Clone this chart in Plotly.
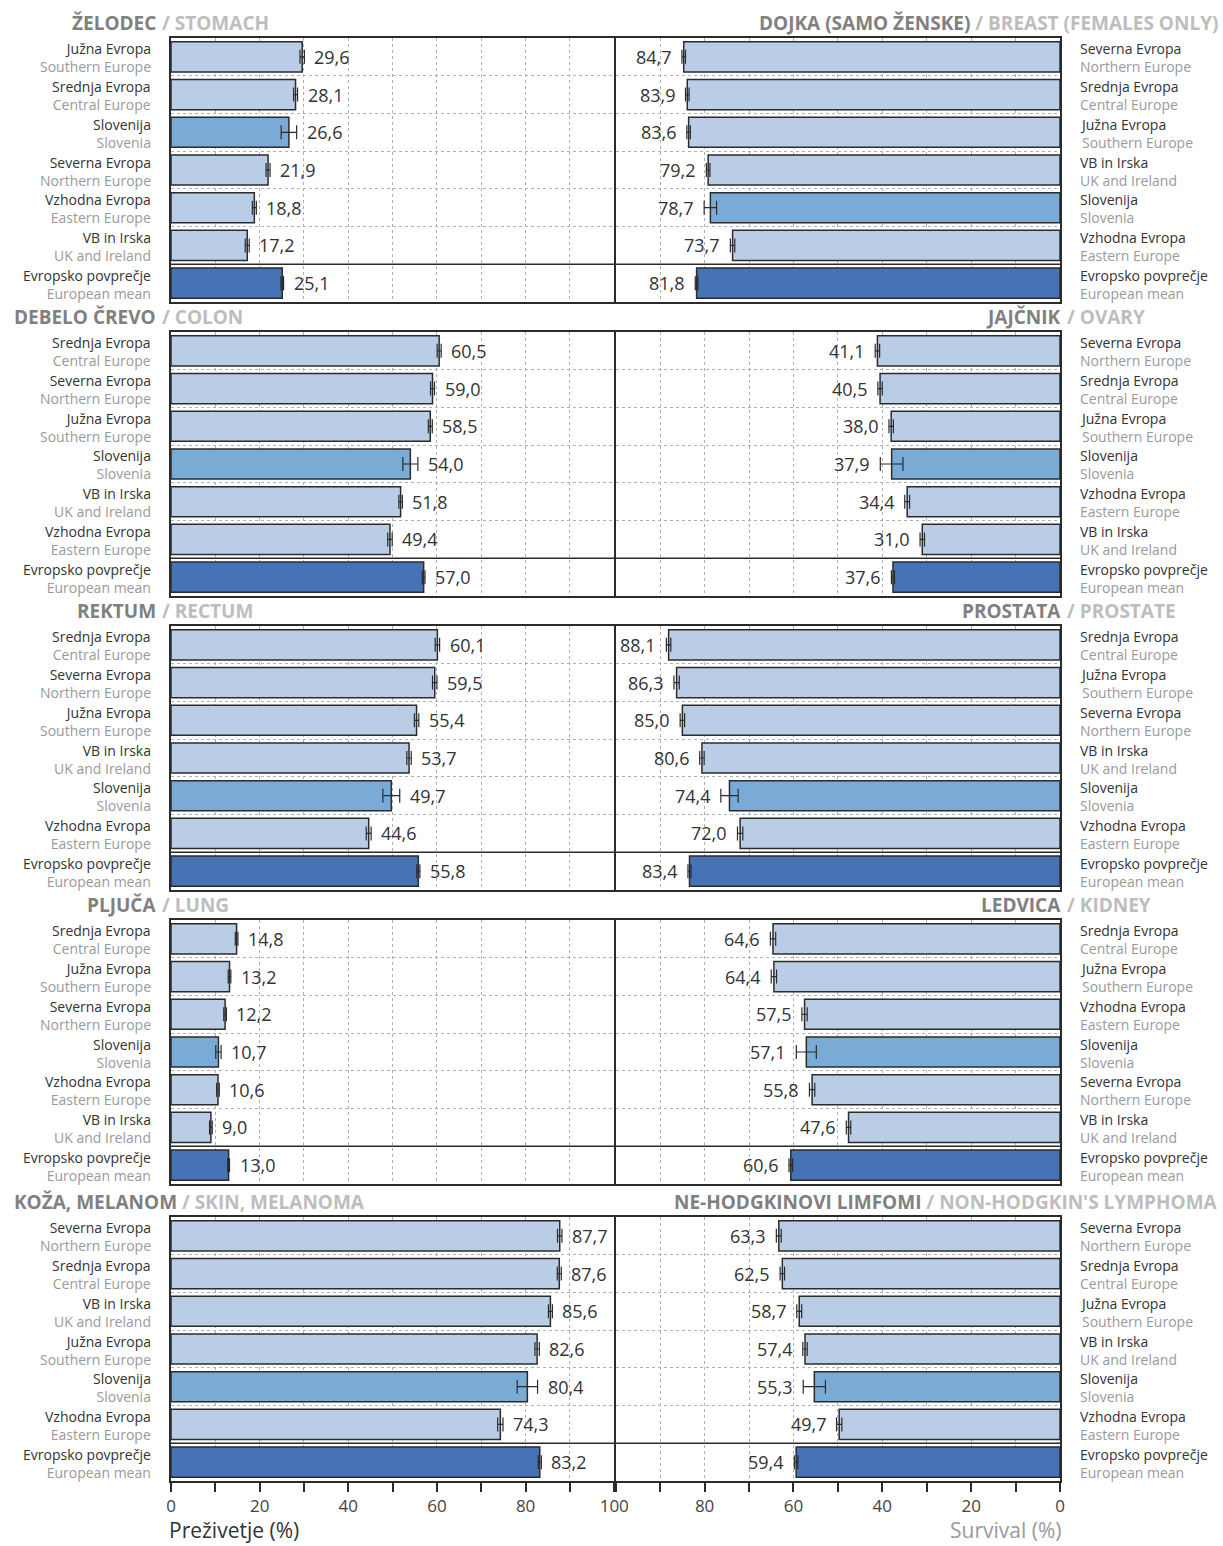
import plotly.graph_objects as go

W, H = 1223, 1546
FONT = "Open Sans"

# ---------------- data ----------------
NAMES_SL = {
    "S": "Južna Evropa", "C": "Srednja Evropa", "SI": "Slovenija", "N": "Severna Evropa",
    "E": "Vzhodna Evropa", "UK": "VB in Irska", "EU": "Evropsko povprečje",
}
NAMES_EN = {
    "S": "Southern Europe", "C": "Central Europe", "SI": "Slovenia", "N": "Northern Europe",
    "E": "Eastern Europe", "UK": "UK and Ireland", "EU": "European mean",
}

stomach_regions = ["S", "C", "SI", "N", "E", "UK", "EU"]
stomach_values = [29.6, 28.1, 26.6, 21.9, 18.8, 17.2, 25.1]
stomach_errors = [0.5, 0.45, 1.75, 0.45, 0.45, 0.45, 0.3]

breast_regions = ["N", "C", "S", "UK", "SI", "E", "EU"]
breast_values = [84.7, 83.9, 83.6, 79.2, 78.7, 73.7, 81.8]
breast_errors = [0.4, 0.4, 0.4, 0.4, 1.4, 0.5, 0.3]

colon_regions = ["C", "N", "S", "SI", "UK", "E", "EU"]
colon_values = [60.5, 59.0, 58.5, 54.0, 51.8, 49.4, 57.0]
colon_errors = [0.45, 0.45, 0.45, 1.7, 0.4, 0.5, 0.3]

ovary_regions = ["N", "C", "S", "SI", "E", "UK", "EU"]
ovary_values = [41.1, 40.5, 38.0, 37.9, 34.4, 31.0, 37.6]
ovary_errors = [0.5, 0.5, 0.5, 2.55, 0.55, 0.5, 0.35]

rectum_regions = ["C", "N", "S", "UK", "SI", "E", "EU"]
rectum_values = [60.1, 59.5, 55.4, 53.7, 49.7, 44.6, 55.8]
rectum_errors = [0.5, 0.5, 0.5, 0.5, 1.9, 0.55, 0.35]

prostate_regions = ["C", "S", "N", "UK", "SI", "E", "EU"]
prostate_values = [88.1, 86.3, 85.0, 80.6, 74.4, 72.0, 83.4]
prostate_errors = [0.5, 0.6, 0.5, 0.5, 1.95, 0.6, 0.35]

lung_regions = ["C", "S", "N", "SI", "E", "UK", "EU"]
lung_values = [14.8, 13.2, 12.2, 10.7, 10.6, 9.0, 13.0]
lung_errors = [0.3, 0.3, 0.3, 0.6, 0.3, 0.3, 0.2]

kidney_regions = ["C", "S", "E", "SI", "N", "UK", "EU"]
kidney_values = [64.6, 64.4, 57.5, 57.1, 55.8, 47.6, 60.6]
kidney_errors = [0.6, 0.6, 0.6, 2.25, 0.6, 0.5, 0.4]

melanoma_regions = ["N", "C", "UK", "S", "SI", "E", "EU"]
melanoma_values = [87.7, 87.6, 85.6, 82.6, 80.4, 74.3, 83.2]
melanoma_errors = [0.5, 0.45, 0.45, 0.5, 2.3, 0.6, 0.35]

nhl_regions = ["N", "C", "S", "UK", "SI", "E", "EU"]
nhl_values = [63.3, 62.5, 58.7, 57.4, 55.3, 49.7, 59.4]
nhl_errors = [0.55, 0.5, 0.55, 0.5, 2.5, 0.6, 0.4]

titles_sl = ["ŽELODEC", "DOJKA (SAMO ŽENSKE)", "DEBELO ČREVO", "JAJČNIK", "REKTUM",
             "PROSTATA", "PLJUČA", "LEDVICA", "KOŽA, MELANOM", "NE-HODGKINOVI LIMFOMI"]
titles_en = ["STOMACH", "BREAST (FEMALES ONLY)", "COLON", "OVARY", "RECTUM",
             "PROSTATE", "LUNG", "KIDNEY", "SKIN, MELANOMA", "NON-HODGKIN'S LYMPHOMA"]

tick_values = list(range(0, 101, 10))
left_tick_labels = ["0", "", "20", "", "40", "", "60", "", "80", "", "100"]
right_tick_labels = ["0", "", "20", "", "40", "", "60", "", "80", "", ""]

panels = [
    (stomach_regions, stomach_values, stomach_errors),
    (breast_regions, breast_values, breast_errors),
    (colon_regions, colon_values, colon_errors),
    (ovary_regions, ovary_values, ovary_errors),
    (rectum_regions, rectum_values, rectum_errors),
    (prostate_regions, prostate_values, prostate_errors),
    (lung_regions, lung_values, lung_errors),
    (kidney_regions, kidney_values, kidney_errors),
    (melanoma_regions, melanoma_values, melanoma_errors),
    (nhl_regions, nhl_values, nhl_errors),
]

# ---------------- style ----------------
C_LIGHT = "#b9cde6"
C_SI = "#7aabd6"
C_EU = "#4673b6"
C_LINE = "#2b2b2b"
C_DARK_TXT = "#333333"
C_LIGHT_TXT = "#9a9a9a"
C_TITLE_SL = "#808080"
C_TITLE_EN = "#bdbdbd"

row_tops = [38, 332, 626, 920, 1217]
panel_h = 264
x_left = (171, 614.25)
x_right = (615.75, 1060)

fig = go.Figure()
annotations = []
shapes = []
layout_axes = {}

for k, (regs, vals, errs) in enumerate(panels):
    r, c = divmod(k, 2)
    ax = k + 1
    xa = "x" if ax == 1 else f"x{ax}"
    ya = "y" if ax == 1 else f"y{ax}"
    top = row_tops[r]
    bot = top + panel_h
    xd = x_left if c == 0 else x_right
    colors = [C_SI if g == "SI" else (C_EU if g == "EU" else C_LIGHT) for g in regs]
    ypos = list(range(len(regs)))
    fig.add_trace(go.Bar(
        orientation="h", x=vals, y=ypos, width=0.8,
        marker=dict(color=colors, line=dict(color=C_LINE, width=1.5)),
        error_x=dict(type="data", array=errs, visible=True, color=C_LINE, thickness=1.2, width=7),
        xaxis=xa, yaxis=ya, showlegend=False, hoverinfo="x+y",
    ))
    bottom_row = (r == 4)
    layout_axes[f"xaxis{'' if ax == 1 else ax}"] = dict(
        domain=[xd[0] / W, xd[1] / W],
        range=[0, 100] if c == 0 else [100, 0],
        anchor=ya, automargin=False,
        tickmode="array", tickvals=tick_values,
        ticktext=left_tick_labels if c == 0 else right_tick_labels,
        showticklabels=bottom_row,
        ticks="outside" if bottom_row else "", ticklen=9, tickwidth=1.5, tickcolor=C_LINE,
        tickfont=dict(family=FONT, size=17, color="#444444"),
        showgrid=True, gridcolor="#b0b0b0", griddash="dot", gridwidth=1,
        zeroline=False, showline=True, linecolor=C_LINE, linewidth=1.5, mirror=True,
        fixedrange=True,
    )
    layout_axes[f"yaxis{'' if ax == 1 else ax}"] = dict(
        domain=[1 - bot / H, 1 - top / H],
        range=[6.5, -0.5], anchor=xa, automargin=False,
        tickmode="array", tickvals=[0.5, 1.5, 2.5, 3.5, 4.5],
        showticklabels=False, ticks="",
        showgrid=True, gridcolor="#b0b0b0", griddash="dot", gridwidth=1,
        zeroline=False, showline=True, linecolor=C_LINE, linewidth=1.5, mirror=True,
        fixedrange=True,
    )
    # solid separator above European mean
    shapes.append(dict(type="line", xref=f"{xa} domain", yref=ya, x0=0, x1=1, y0=5.5, y1=5.5,
                       line=dict(color=C_LINE, width=1.5), layer="above"))
    # value labels
    for i, (v, e) in enumerate(zip(vals, errs)):
        annotations.append(dict(
            x=v + e, y=i, xref=xa, yref=ya, text=f"{v:.1f}".replace(".", ","),
            showarrow=False, xanchor="left" if c == 0 else "right",
            xshift=8 if c == 0 else -8, yshift=0,
            font=dict(family=FONT, size=18, color=C_DARK_TXT)))
    # region labels (two-line: Slovenian dark, English light)
    lx = 153 / W if c == 0 else 1078 / W
    anch = "right" if c == 0 else "left"
    for i, g in enumerate(regs):
        txt = f"{NAMES_SL[g]}<br><span style='color:{C_LIGHT_TXT}'>{NAMES_EN[g]}</span>"
        annotations.append(dict(x=lx, y=i, xref="paper", yref=ya, text=txt, showarrow=False,
                                xanchor=anch, yanchor="middle", align=anch, yshift=-1,
                                font=dict(family=FONT, size=14, color=C_DARK_TXT)))
    # titles
    ty = 1 - (top - 15) / H
    sl, en = titles_sl[k], titles_en[k]
    tfont = dict(family=FONT, size=19)
    long_title = k in (1, 8, 9)
    if long_title:
        txt = f"<b>{sl}</b><span style='color:{C_TITLE_EN}'><b> / {en}</b></span>"
        if c == 0:
            annotations.append(dict(x=12 / W, y=ty, xref="paper", yref="paper", text=txt, showarrow=False,
                                    xanchor="left", yanchor="middle", font=dict(color=C_TITLE_SL, **tfont)))
        else:
            annotations.append(dict(x=1220 / W, y=ty, xref="paper", yref="paper", text=txt, showarrow=False,
                                    xanchor="right", yanchor="middle", font=dict(color=C_TITLE_SL, **tfont)))
    else:
        sx = 158 if c == 0 else 1063
        annotations.append(dict(x=sx / W, y=ty, xref="paper", yref="paper", text=f"<b>{sl}</b>",
                                showarrow=False, xanchor="right", yanchor="middle",
                                font=dict(color=C_TITLE_SL, **tfont)))
        annotations.append(dict(x=(sx + 2) / W, y=ty, xref="paper", yref="paper", text=f"<b>/ {en}</b>",
                                showarrow=False, xanchor="left", yanchor="middle",
                                font=dict(color=C_TITLE_EN, **tfont)))

# axis titles
annotations.append(dict(x=167 / W, y=0, xref="paper", yref="paper", text="Preživetje (%)",
                        showarrow=False, xanchor="left", yanchor="bottom",
                        font=dict(family=FONT, size=21, color=C_DARK_TXT)))
annotations.append(dict(x=1063 / W, y=0, xref="paper", yref="paper", text="Survival (%)",
                        showarrow=False, xanchor="right", yanchor="bottom",
                        font=dict(family=FONT, size=21, color=C_LIGHT_TXT)))

fig.update_layout(
    template="none",
    width=W, height=H, margin=dict(l=0, r=0, t=0, b=0, pad=0, autoexpand=False),
    paper_bgcolor="white", plot_bgcolor="white",
    barmode="overlay", annotations=annotations, shapes=shapes,
    font=dict(family=FONT), **layout_axes,
)
post = ("document.body.style.margin='0px';"
        "document.body.style.padding='0px';"
        "document.documentElement.style.overflow='hidden';"
        "document.body.style.overflow='hidden';")
fig.write_html("out.html", post_script=post, config={"displayModeBar": False})
